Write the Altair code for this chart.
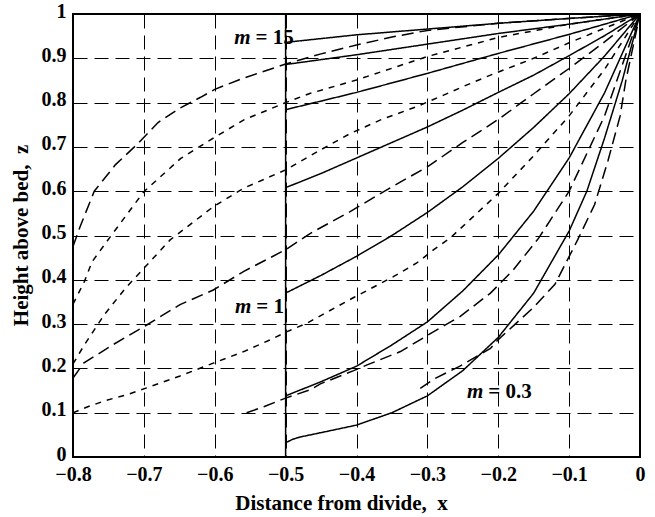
import altair as alt
import pandas as pd

# ---- solid curves (start at x = -0.5) ----
s1_x = [-0.5, -0.4, -0.3, -0.2, -0.1, 0.0]
s1_y = [0.936, 0.953, 0.966, 0.979, 0.99, 1.0]
s2_x = [-0.5, -0.4, -0.3, -0.2, -0.1, 0.0]
s2_y = [0.886, 0.908, 0.932, 0.956, 0.977, 1.0]
s3_x = [-0.5, -0.4, -0.3, -0.2, -0.1, 0.0]
s3_y = [0.784, 0.823, 0.866, 0.911, 0.954, 1.0]
s4_x = [-0.5, -0.45, -0.4, -0.35, -0.3, -0.25, -0.2, -0.15, -0.1, -0.05, 0.0]
s4_y = [0.608, 0.64, 0.675, 0.71, 0.745, 0.783, 0.823, 0.862, 0.906, 0.951, 1.0]
s5_x = [-0.5, -0.45, -0.4, -0.35, -0.3, -0.25, -0.2, -0.15, -0.1, -0.05, 0.0]
s5_y = [0.37, 0.41, 0.453, 0.5, 0.552, 0.61, 0.674, 0.744, 0.82, 0.905, 1.0]
s6_x = [-0.5, -0.45, -0.4, -0.35, -0.3, -0.25, -0.2, -0.15, -0.1, -0.05, 0.0]
s6_y = [0.138, 0.17, 0.205, 0.253, 0.305, 0.375, 0.456, 0.555, 0.675, 0.822, 1.0]
s7_x = [-0.5, -0.49, -0.48, -0.45, -0.4, -0.35, -0.3, -0.25, -0.2, -0.15, -0.1, -0.075, -0.05, -0.025, 0.0]
s7_y = [0.032, 0.04, 0.045, 0.055, 0.072, 0.1, 0.138, 0.195, 0.27, 0.37, 0.51, 0.6, 0.72, 0.85, 1.0]
# solid vertical line at x = -0.5 where the solid curves start
v_x = [-0.5, -0.5]
v_y = [0.0, 1.0]

# ---- dashed curves ----
da_x = [-0.8, -0.79, -0.77, -0.74, -0.71, -0.68, -0.65, -0.62, -0.6, -0.56, -0.5, -0.45, -0.4, -0.35, -0.3, -0.2, -0.1, 0.0]
da_y = [0.475, 0.52, 0.6, 0.66, 0.705, 0.755, 0.787, 0.812, 0.83, 0.855, 0.887, 0.91, 0.93, 0.948, 0.963, 0.979, 0.99, 1.0]
db_x = [-0.8, -0.784, -0.773, -0.747, -0.7, -0.648, -0.606, -0.559, -0.5, -0.465, -0.4, -0.3, -0.2, -0.1, 0.0]
db_y = [0.345, 0.396, 0.441, 0.498, 0.599, 0.674, 0.716, 0.761, 0.8, 0.821, 0.851, 0.904, 0.947, 0.977, 1.0]
dc_x = [-0.8, -0.784, -0.756, -0.726, -0.7, -0.663, -0.602, -0.559, -0.5, -0.451, -0.409, -0.366, -0.315, -0.277, -0.244, -0.211, -0.15, -0.1, -0.05, 0.0]
dc_y = [0.21, 0.253, 0.321, 0.381, 0.426, 0.49, 0.565, 0.607, 0.648, 0.693, 0.73, 0.761, 0.791, 0.817, 0.84, 0.862, 0.9, 0.935, 0.968, 1.0]
dd_x = [-0.8, -0.785, -0.743, -0.696, -0.649, -0.602, -0.559, -0.5, -0.465, -0.409, -0.35, -0.3, -0.25, -0.2, -0.15, -0.1, -0.05, 0.0]
dd_y = [0.178, 0.212, 0.254, 0.298, 0.344, 0.377, 0.419, 0.468, 0.505, 0.554, 0.61, 0.655, 0.71, 0.762, 0.82, 0.877, 0.937, 1.0]
de_x = [-0.8, -0.78, -0.753, -0.725, -0.696, -0.649, -0.602, -0.559, -0.517, -0.498, -0.47, -0.404, -0.348, -0.315, -0.291, -0.268, -0.2, -0.15, -0.1, -0.05, 0.0]
de_y = [0.1, 0.113, 0.128, 0.14, 0.156, 0.183, 0.212, 0.238, 0.268, 0.283, 0.302, 0.36, 0.407, 0.438, 0.468, 0.494, 0.595, 0.68, 0.77, 0.875, 1.0]
df_x = [-0.555, -0.53, -0.5, -0.465, -0.451, -0.404, -0.385, -0.338, -0.291, -0.254, -0.211, -0.18, -0.143, -0.1, -0.05, 0.0]
df_y = [0.1, 0.114, 0.133, 0.152, 0.165, 0.195, 0.208, 0.238, 0.283, 0.317, 0.37, 0.42, 0.494, 0.6, 0.77, 1.0]
dg_x = [-0.31, -0.291, -0.254, -0.211, -0.2, -0.176, -0.15, -0.12, -0.088, -0.064, -0.045, -0.028, -0.02, -0.008, 0.0]
dg_y = [0.155, 0.176, 0.205, 0.245, 0.265, 0.3, 0.338, 0.39, 0.49, 0.57, 0.67, 0.77, 0.85, 0.94, 1.0]

# ---- labels ----
label_x = [-0.548, -0.547, -0.2197]
label_y = [0.946, 0.339, 0.1475]
label_var = ["m", "m", "m"]
label_rest = ["= 15", "= 1", "= 0.3"]

x_ticks = [-0.8, -0.7, -0.6, -0.5, -0.4, -0.3, -0.2, -0.1, 0.0]
y_ticks = [0.0, 0.1, 0.2, 0.3, 0.4, 0.5, 0.6, 0.7, 0.8, 0.9, 1.0]

curves = [
    ("V", "solid", v_x, v_y),
    ("S1", "solid", s1_x, s1_y), ("S2", "solid", s2_x, s2_y), ("S3", "solid", s3_x, s3_y),
    ("S4", "solid", s4_x, s4_y), ("S5", "solid", s5_x, s5_y), ("S6", "solid", s6_x, s6_y),
    ("S7", "solid", s7_x, s7_y),
    ("DA", "long", da_x, da_y), ("DB", "short", db_x, db_y), ("DC", "short", dc_x, dc_y),
    ("DD", "long", dd_x, dd_y), ("DE", "short", de_x, de_y), ("DF", "long", df_x, df_y),
    ("DG", "long", dg_x, dg_y),
]
rows = []
for name, style, xs, ys in curves:
    for i, (a, b) in enumerate(zip(xs, ys)):
        rows.append({"curve": name, "style": style, "x": a, "y": b, "i": i})
df = pd.DataFrame(rows)
lab_df = pd.DataFrame({"x": label_x, "y": label_y, "v": label_var, "rest": label_rest})

FONT = "Liberation Serif"
x_enc = alt.X("x:Q", scale=alt.Scale(domain=[-0.8, 0], nice=False, zero=False),
              axis=alt.Axis(values=x_ticks, format="~g", title="Distance from divide,\u00a0 x",
                            labelPadding=7, labelFlush=False, titleX=268, titleY=52,
                            titleBaseline="alphabetic", titleAlign="center"))
y_enc = alt.Y("y:Q", scale=alt.Scale(domain=[0, 1], nice=False, zero=False),
              axis=alt.Axis(values=y_ticks, format="~g", title="Height above bed,\u00a0 z",
                            labelPadding=7, labelFlush=False, labelOffset=-3, titleX=-46, titleY=221,
                            titleAngle=270, titleBaseline="alphabetic", titleAlign="center"))

lines = alt.Chart(df).mark_line(color="black", strokeWidth=1.5, clip=True).encode(
    x=x_enc, y=y_enc, detail="curve:N", order="i:Q",
    strokeDash=alt.StrokeDash("style:N", legend=None,
                              scale=alt.Scale(domain=["solid", "long", "short"],
                                              range=[[1, 0], [12, 6], [6, 6]])),
)
m_text = alt.Chart(lab_df).mark_text(align="right", baseline="middle", font=FONT, fontSize=21,
                                     fontWeight="bold", fontStyle="italic", dx=-1, color="black").encode(
    x=x_enc, y=y_enc, text="v:N")
rest_text = alt.Chart(lab_df).mark_text(align="left", baseline="middle", font=FONT, fontSize=21,
                                        fontWeight="bold", dx=4, color="black").encode(
    x=x_enc, y=y_enc, text="rest:N")

chart = alt.layer(lines, m_text, rest_text).properties(
    width=567, height=443,
    padding={"left": 73, "top": 14, "right": 15, "bottom": 60},
    autosize=alt.AutoSizeParams(type="none"),
).configure_view(stroke="black", strokeWidth=2).configure_axis(
    domain=False, ticks=False, grid=True, gridColor="black", gridDash=[14, 7], gridWidth=1,
    gridOpacity=1, labelFont=FONT, labelFontWeight="bold", labelFontSize=20, labelColor="black",
    titleFont=FONT, titleFontWeight="bold", titleFontSize=21, titleColor="black",
)

chart.save("out.html", embed_options={"renderer": "svg", "actions": False})
